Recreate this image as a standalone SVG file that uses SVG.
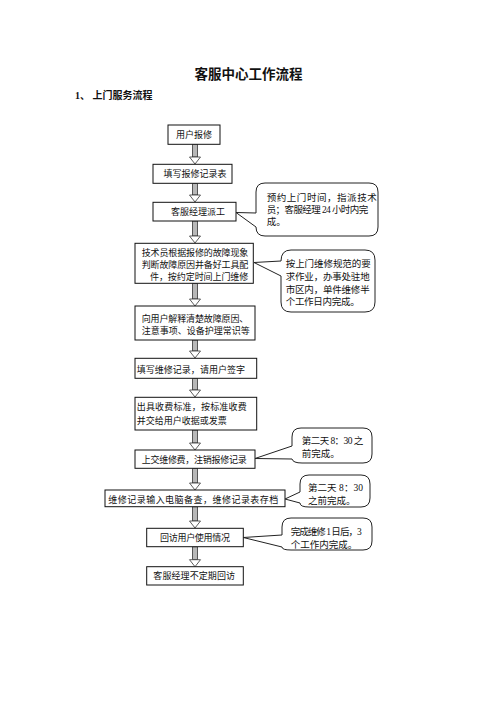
<svg xmlns="http://www.w3.org/2000/svg" width="496" height="702" viewBox="0 0 496 702">
<style>
.t{font-family:"Liberation Serif","Noto Sans CJK SC",serif;fill:#111}
.n{font-size:9px}
.c{font-size:9.5px}
.box{fill:#fff;stroke:#111;stroke-width:1}
.co{fill:#fff;stroke:#222;stroke-width:1}
.sh{fill:#b8b8b8;stroke:#333;stroke-width:0.8}
.hd{fill:#fff;stroke:#333;stroke-width:0.8}
</style>
<rect width="496" height="702" fill="#fff"/>
<text class="t" x="248.5" y="78.5" font-size="13.5" font-weight="bold" text-anchor="middle">客服中心工作流程</text>
<text class="t" x="75" y="99" font-size="10" font-weight="bold">1、 上门服务流程</text>

<g id="connectors">
<path class="sh" d="M192.5 144V157H197.5V144Z"/><path class="hd" d="M189.5 157H200.5L195 164Z"/>
<path class="sh" d="M192.5 183.3V195H197.5V183.3Z"/><path class="hd" d="M189.5 195H200.5L195 202Z"/>
<path class="sh" d="M192.5 221V236H197.5V221Z"/><path class="hd" d="M189.5 236H200.5L195 243Z"/>
<path class="sh" d="M192.5 283.3V299H197.5V283.3Z"/><path class="hd" d="M189.5 299H200.5L195 306Z"/>
<path class="sh" d="M192.5 340V351H197.5V340Z"/><path class="hd" d="M189.5 351H200.5L195 358Z"/>
<path class="sh" d="M192.5 378.3V390H197.5V378.3Z"/><path class="hd" d="M189.5 390H200.5L195 397Z"/>
<path class="sh" d="M192.5 430V443H197.5V430Z"/><path class="hd" d="M189.5 443H200.5L195 450Z"/>
<path class="sh" d="M192.5 468.3V483H197.5V468.3Z"/><path class="hd" d="M189.5 483H200.5L195 490Z"/>
<path class="sh" d="M192.5 506.7V521H197.5V506.7Z"/><path class="hd" d="M189.5 521H200.5L195 528Z"/>
<path class="sh" d="M192.5 546.7V559.7H197.5V546.7Z"/><path class="hd" d="M189.5 559.7H200.5L195 566.7Z"/>
</g>

<g id="n1"><rect class="box" x="168" y="125" width="52" height="19.3"/>
<text class="t n" x="194" y="138" text-anchor="middle">用户报修</text></g>
<g id="n2"><rect class="box" x="153" y="164.3" width="79" height="19"/>
<text class="t n" x="195" y="177.4" text-anchor="middle">填写报修记录表</text></g>
<g id="n3"><rect class="box" x="153" y="202.3" width="83" height="18.7"/>
<text class="t n" x="198" y="215" text-anchor="middle">客服经理派工</text></g>
<g id="n4"><rect class="box" x="135" y="243.3" width="118.3" height="40"/>
<text class="t n" x="141.7" y="256" textLength="106.6" lengthAdjust="spacing">技术员根据报修的故障现象</text>
<text class="t n" x="141.7" y="268.4" textLength="106.6" lengthAdjust="spacing">判断故障原因并备好工具配</text>
<text class="t n" x="150" y="280.4" textLength="98.3" lengthAdjust="spacing">件，按约定时间上门维修</text></g>
<g id="n5"><rect class="box" x="135" y="306" width="120" height="34"/>
<text class="t n" x="141.7" y="321.7" textLength="106.6" lengthAdjust="spacing">向用户解释清楚故障原因、</text>
<text class="t n" x="141.7" y="333.6" textLength="108" lengthAdjust="spacing">注意事项、设备护理常识等</text></g>
<g id="n6"><rect class="box" x="135" y="358.3" width="121.7" height="20"/>
<text class="t n" x="136.7" y="372.7" textLength="108.3" lengthAdjust="spacing">填写维修记录，请用户签字</text></g>
<g id="n7"><rect class="box" x="135" y="397.3" width="121.7" height="32.7"/>
<text class="t n" x="136.7" y="410.2" textLength="110" lengthAdjust="spacing">出具收费标准，按标准收费</text>
<text class="t n" x="136.7" y="423.6">并交给用户收据或发票</text></g>
<g id="n8"><rect class="box" x="135" y="450" width="120" height="18.3"/>
<text class="t n" x="141.7" y="462.7" textLength="105" lengthAdjust="spacing">上交维修费，注销报修记录</text></g>
<g id="n9"><rect class="box" x="105" y="490" width="180" height="16.7"/>
<text class="t n" x="108.3" y="502.7" textLength="170" lengthAdjust="spacing">维修记录输入电脑备查，维修记录表存档</text></g>
<g id="n10"><rect class="box" x="146.7" y="528.3" width="96.6" height="18.4"/>
<text class="t n" x="160" y="540.7" textLength="70" lengthAdjust="spacing">回访用户使用情况</text></g>
<g id="n11"><rect class="box" x="146.7" y="566.7" width="96.6" height="18.3"/>
<text class="t n" x="153.3" y="579.4" textLength="81.7" lengthAdjust="spacing">客服经理不定期回访</text></g>

<g id="c1"><path class="co" d="M256 213V192Q256 183 265 183H369Q378 183 378 192V227Q378 236 369 236H265Q256 236 256 227L236 212.5Z"/>
<text class="t c" x="266.7" y="200.5" textLength="110" lengthAdjust="spacing">预约上门时间，指派技术</text>
<text class="t c" x="266.7" y="212.5" textLength="101.5" lengthAdjust="spacing">员；客服经理 24 小时内完</text>
<text class="t c" x="266.7" y="224.8">成。</text></g>
<g id="c2"><path class="co" d="M281 261Q281 250 291 250H365Q375 250 375 260V302Q375 312 365 312H291Q281 312 281 302V276L254 262.5Z"/>
<text class="t c" x="285.7" y="266.8" textLength="85" lengthAdjust="spacing">按上门维修规范的要</text>
<text class="t c" x="285.7" y="280.2" textLength="84" lengthAdjust="spacing">求作业，办事处驻地</text>
<text class="t c" x="285.7" y="292.8" textLength="84" lengthAdjust="spacing">市区内，单件维修半</text>
<text class="t c" x="285.7" y="305.2" textLength="74" lengthAdjust="spacing">个工作日内完成。</text></g>
<g id="c3"><path class="co" d="M292 446V437Q292 428 301 428H363Q372 428 372 437V454Q372 463 363 463H302Q293 463 292 459L255 458.5Z"/>
<text class="t c" x="301.7" y="443.5" textLength="61.6" lengthAdjust="spacing">第二天 8：30 之</text>
<text class="t c" x="301.7" y="456.8">前完成。</text></g>
<g id="c4"><path class="co" d="M300 492V484Q300 475 309 475H361Q370 475 370 484V498Q370 507 361 507H309Q300 507 300 503L285 499Z"/>
<text class="t c" x="308" y="490.8" textLength="55" lengthAdjust="spacing">第二天  8：30</text>
<text class="t c" x="308" y="504.2">之前完成。</text></g>
<g id="c5"><path class="co" d="M282 535V527Q282 518 291 518H363Q372 518 372 527V541Q372 550 363 550H291Q282 550 282 547L243.3 537.5Z"/>
<text class="t c" x="290.7" y="535.2" textLength="71" lengthAdjust="spacing">完成维修 1 日后，3</text>
<text class="t c" x="290.7" y="547.6">个工作内完成。</text></g>
</svg>
